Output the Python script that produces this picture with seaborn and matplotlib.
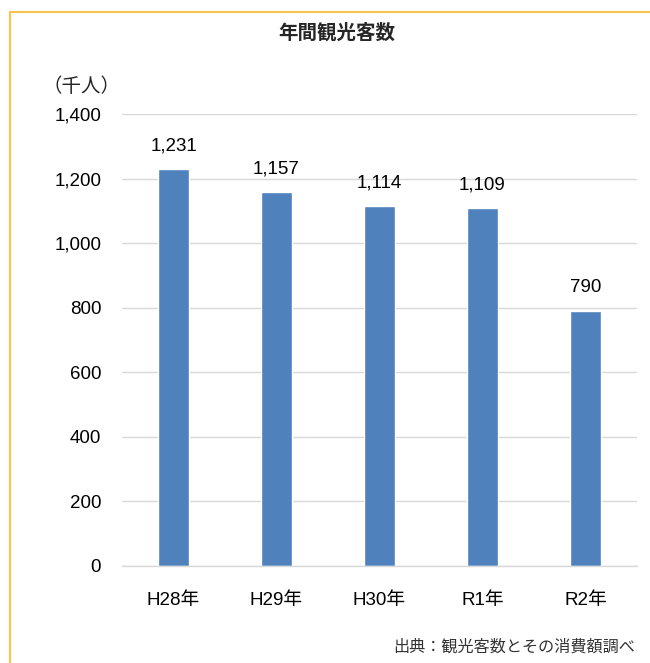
import matplotlib
matplotlib.use("Agg")
import matplotlib.pyplot as plt
import seaborn as sns
import pandas as pd
from matplotlib.lines import Line2D

categories = ["H28年", "H29年", "H30年", "R1年", "R2年"]
values = [1231, 1157, 1114, 1109, 790]
yticks = [0, 200, 400, 600, 800, 1000, 1200, 1400]

num_size = 13.5

sns.set_theme(style="white")
plt.rcParams['font.family'] = ['Liberation Sans', 'Noto Sans CJK JP', 'DejaVu Sans']

df = pd.DataFrame({"cat": categories, "val": values})

fig = plt.figure(figsize=(6.5, 6.63), dpi=100)
ax = fig.add_axes([122/650, 1-566/663, (637-122)/650, (566-114)/663])
sns.barplot(data=df, x="cat", y="val", color="#4F81BD", saturation=1, width=0.31, ax=ax)

ax.set_ylim(0, 1400)
ax.set_yticks(yticks)
ax.set_yticklabels([f"{v:,}" for v in yticks], fontsize=num_size, color="#000000")
ax.set_xlim(-0.5, 4.5)
ax.tick_params(axis='x', labelsize=num_size, pad=19, length=0, colors="#000000")
ax.tick_params(axis='y', length=0, pad=15)
ax.yaxis.grid(True, color="#d9d9d9", linewidth=1)
ax.set_axisbelow(True)
for s in ["top", "right", "left"]:
    ax.spines[s].set_visible(False)
ax.spines["bottom"].set_color("#d9d9d9")
ax.spines["bottom"].set_linewidth(1)
ax.set_xlabel("")
ax.set_ylabel("")

for i, v in enumerate(values):
    ax.text(i, v + 45, f"{v:,}", ha="center", va="bottom", fontsize=num_size, color="#000000")

fig.text(337/650, 1-33/663, "年間観光客数", ha="center", va="center", fontsize=14, fontweight="bold",
         family=['Noto Sans CJK JP', 'DejaVu Sans'])
fig.text(81/650, 1-86/663, "（千人）", ha="center", va="center", fontsize=14,
         family=['Noto Sans CJK JP', 'DejaVu Sans'])
fig.text(635/650, 1-647/663, "出典：観光客数とその消費額調べ", ha="right", va="center", fontsize=11.6,
         color="#333333", family=['Noto Sans CJK JP', 'DejaVu Sans'])

border = "#F8C44C"
fig.add_artist(Line2D([10/650, 1], [1-12/663, 1-12/663], color=border, linewidth=1.5, transform=fig.transFigure))
fig.add_artist(Line2D([10/650, 10/650], [0, 1-12/663], color=border, linewidth=1.5, transform=fig.transFigure))

fig.savefig("out.png", dpi=100)
